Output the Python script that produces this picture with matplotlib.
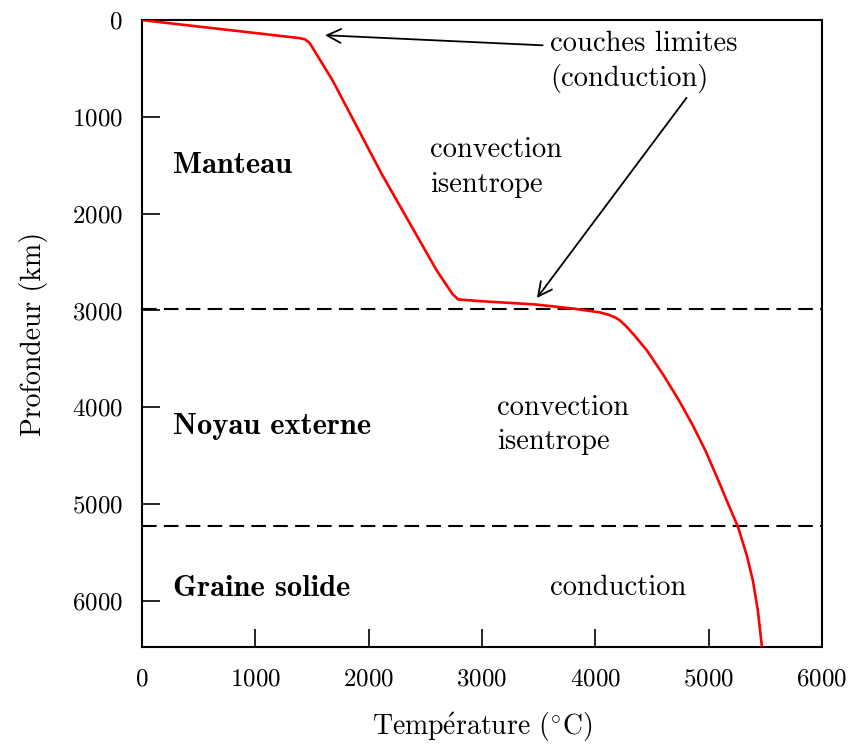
import matplotlib
matplotlib.use("Agg")
import matplotlib.pyplot as plt

plt.rcParams['font.family'] = ['cmr10', 'DejaVu Serif']
plt.rcParams['mathtext.fontset'] = 'cm'
plt.rcParams['axes.formatter.use_mathtext'] = True

# temperature profile (T in degC, depth in km)
temp = [0, 1390, 1440, 1480, 1680, 2120, 2600, 2740, 2790,
        3000, 3470, 3800, 4040, 4120, 4180, 4220, 4270, 4340, 4456, 4604,
        4739, 4862, 4972, 5087, 5179, 5259, 5338, 5391, 5435, 5471]
depth = [0, 186, 200, 238, 620, 1600, 2586, 2830, 2886,
         2905, 2938, 2980, 3020, 3045, 3075, 3105, 3160, 3250, 3414, 3672,
         3931, 4190, 4448, 4759, 5017, 5234, 5535, 5793, 6103, 6480]

boundaries = [2985, 5225]

regions = ['Manteau', 'Noyau externe', 'Graine solide']
region_y = [1500, 4200, 5870]
regimes = ['convection\nisentrope', 'convection\nisentrope', 'conduction']
regime_x = [2540, 3130, 3600]
regime_y = [1520, 4180, 5870]

fig = plt.figure(figsize=(8.52, 7.44), dpi=100)
ax = fig.add_axes([0.1667, 0.130, 0.798, 0.843])

for b in boundaries:
    ax.axhline(b, color='black', lw=1.5, ls=(0, (7, 3.5)), zorder=2)

ax.plot(temp, depth, color='red', lw=1.9, zorder=3)

ax.set_xlim(0, 6000)
ax.set_ylim(6480, 0)
ax.set_xticks([0, 1000, 2000, 3000, 4000, 5000, 6000])
ax.set_yticks([0, 1000, 2000, 3000, 4000, 5000, 6000])
ax.tick_params(direction='in', length=13, width=1.2, labelsize=18)
ax.tick_params(axis='x', pad=15)
ax.tick_params(axis='y', pad=14)
for s in ax.spines.values():
    s.set_linewidth(1.5)

ax.set_xlabel(r'Temp$\acute{\mathrm{e}}$rature ($^{\circ}$C)', fontsize=20, labelpad=14)
ax.set_ylabel('Profondeur (km)', fontsize=20, labelpad=17)

for name, y in zip(regions, region_y):
    ax.text(270, y, name, fontfamily='cmb10', fontsize=22, va='center', ha='left')
for txt, x, y in zip(regimes, regime_x, regime_y):
    ax.text(x, y, txt, fontsize=20.5, va='center', ha='left', linespacing=1.4)

ax.text(3600, 430, 'couches limites\n(conduction)', fontsize=20.5, ha='left',
        va='center', linespacing=1.35)
arr = dict(arrowstyle='->', lw=1.3, color='black', mutation_scale=25)
ax.annotate('', xy=(1590, 155), xytext=(3560, 262), arrowprops=arr)
ax.annotate('', xy=(3470, 2895), xytext=(4820, 780), arrowprops=arr)

fig.savefig('out.png', dpi=100)
